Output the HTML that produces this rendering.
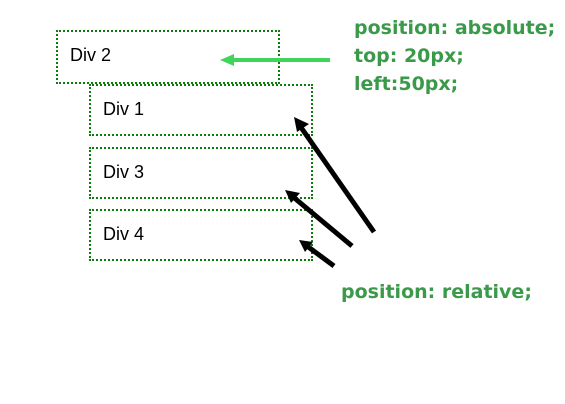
<!DOCTYPE html>
<html><head><style>
body{margin:0;width:565px;height:404px;background:#fff;position:relative;overflow:hidden;font-family:"Liberation Sans",sans-serif}
.b{position:absolute;border:2px dotted #0a7d0a;box-sizing:border-box;font-size:18px;color:#000;padding-left:12px}
.t{position:absolute;color:#3a9a4a;font-weight:bold;font-size:19px;font-family:"DejaVu Sans","Liberation Sans",sans-serif;line-height:28px;white-space:nowrap}
</style></head><body>
<div class="b" style="left:56px;top:30px;width:224px;height:54px;line-height:46px">Div 2</div>
<div class="b" style="left:89px;top:84px;width:224px;height:52px;line-height:46px">Div 1</div>
<div class="b" style="left:89px;top:147px;width:224px;height:52px;line-height:46px">Div 3</div>
<div class="b" style="left:89px;top:209px;width:224px;height:52px;line-height:46px">Div 4</div>
<div class="t" style="left:354px;top:14px">position: absolute;<br>top: 20px;<br>left:50px;</div>
<div class="t" style="left:341px;top:278px">position: relative;</div>
<svg width="565" height="404" style="position:absolute;left:0;top:0">
<line x1="330" y1="60" x2="232" y2="60" stroke="#3fd45a" stroke-width="4"/>
<polygon points="220,60 234,54 234,66" fill="#3fd45a"/>
<g stroke="#000" stroke-width="5" stroke-linecap="butt">
<line x1="374" y1="232" x2="300" y2="126"/>
<line x1="352" y1="246" x2="292" y2="196"/>
<line x1="334" y1="266" x2="307" y2="246"/>
</g>
<polygon points="294,117 309,124 297,132" fill="#000"/>
<polygon points="285,190 300,193 291,203" fill="#000"/>
<polygon points="299,240 313,242 305,252" fill="#000"/>
</svg>
</body></html>
